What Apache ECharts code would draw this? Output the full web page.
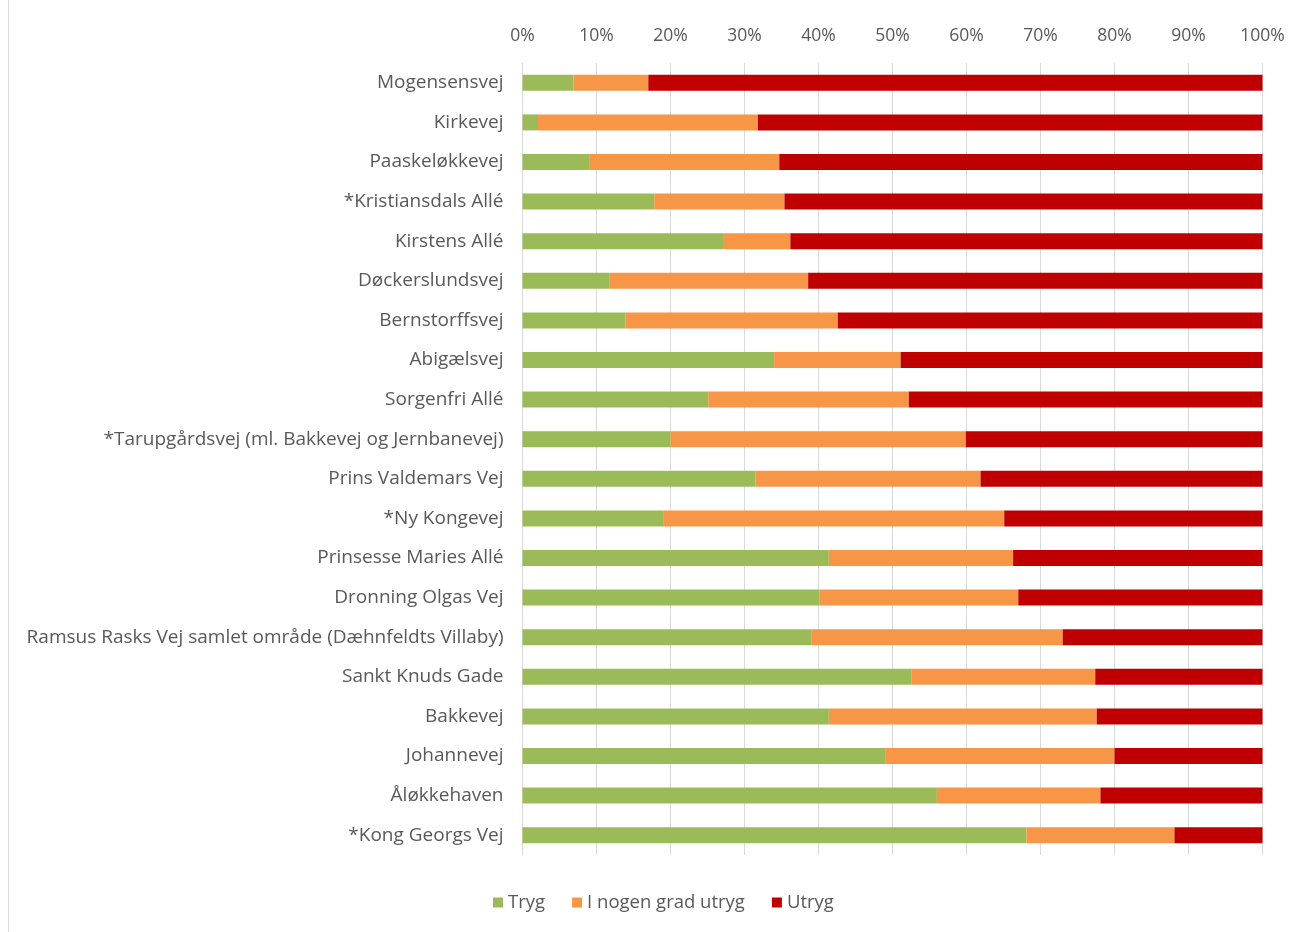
<!DOCTYPE html>
<html>
<head>
<meta charset="utf-8">
<script src="https://cdn.jsdelivr.net/npm/echarts@6/dist/echarts.min.js"></script>
<style>
html,body{margin:0;padding:0;background:#fff;}
#chart{width:1290px;height:932px;}
</style>
</head>
<body>
<div id="chart"></div>
<script>
const categories = [
  "Mogensensvej",
  "Kirkevej",
  "Paaskeløkkevej",
  "*Kristiansdals Allé",
  "Kirstens Allé",
  "Døckerslundsvej",
  "Bernstorffsvej",
  "Abigælsvej",
  "Sorgenfri Allé",
  "*Tarupgårdsvej (ml. Bakkevej og Jernbanevej)",
  "Prins Valdemars Vej",
  "*Ny Kongevej",
  "Prinsesse Maries Allé",
  "Dronning Olgas Vej",
  "Ramsus Rasks Vej samlet område (Dæhnfeldts Villaby)",
  "Sankt Knuds Gade",
  "Bakkevej",
  "Johannevej",
  "Åløkkehaven",
  "*Kong Georgs Vej"
];
const tryg = [6.9, 2.1, 9.0, 17.8, 27.1, 11.8, 13.9, 34.0, 25.1, 20.0, 31.5, 19.0, 41.4, 40.1, 39.1, 52.6, 41.4, 49.1, 56.0, 68.1];
const nogenGradUtryg = [10.1, 29.7, 25.7, 17.6, 9.1, 26.8, 28.7, 17.1, 27.1, 39.9, 30.4, 46.1, 24.9, 26.9, 33.9, 24.8, 36.2, 30.9, 22.1, 20.0];
const utryg = [83.0, 68.2, 65.3, 64.6, 63.8, 61.4, 57.4, 48.9, 47.8, 40.1, 38.1, 34.9, 33.7, 33.0, 27.0, 22.6, 22.4, 20.0, 21.9, 11.9];
const seriesNames = ["Tryg", "I nogen grad utryg", "Utryg"];
const colors = ["#9bbb59", "#f79646", "#c00000"];
const tickLabels = ["0%","10%","20%","30%","40%","50%","60%","70%","80%","90%","100%"];

const FONT = "Open Sans";
const chart = echarts.init(document.getElementById('chart'));
const mk = (name, data, i) => ({
  name, type: 'bar', stack: 'total', data, barWidth: 16,
  itemStyle: {color: colors[i]},
  emphasis: {disabled: true}
});
chart.setOption({
  animation: false,
  textStyle: {fontFamily: FONT},
  grid: {left: 522.5, right: 27.5, top: 63, bottom: 77, containLabel: false},
  legend: {
    bottom: 15, left: 488,
    itemWidth: 10, itemHeight: 10, itemGap: 27,
    icon: 'rect',
    textStyle: {color: '#595959', fontSize: 18.5, fontFamily: FONT},
    data: seriesNames
  },
  xAxis: {
    type: 'value', position: 'top', min: 0, max: 100, interval: 10,
    axisLine: {show: false}, axisTick: {show: false},
    splitLine: {lineStyle: {color: '#d9d9d9', width: 1}},
    axisLabel: {
      color: '#595959', fontSize: 17.5, margin: 18, fontFamily: FONT,
      formatter: v => tickLabels[Math.round(v / 10)]
    }
  },
  yAxis: {
    type: 'category', data: categories, inverse: true,
    axisLine: {show: true, lineStyle: {color: '#d9d9d9'}},
    axisTick: {show: false},
    axisLabel: {color: '#595959', fontSize: 19, margin: 19, fontFamily: FONT}
  },
  graphic: [{
    type: 'line', shape: {x1: 8.5, y1: 0, x2: 8.5, y2: 932},
    style: {stroke: '#d9d9d9', lineWidth: 1}
  }],
  series: [mk(seriesNames[0], tryg, 0), mk(seriesNames[1], nogenGradUtryg, 1), mk(seriesNames[2], utryg, 2)]
});
</script>
</body>
</html>
